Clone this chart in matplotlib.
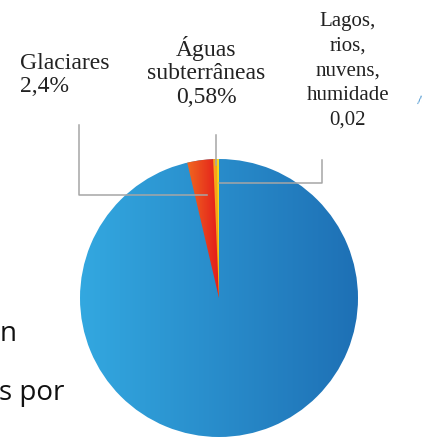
import numpy as np
import matplotlib.pyplot as plt
from matplotlib.patches import Wedge
from matplotlib.colors import LinearSegmentedColormap

# Wedge shares as drawn in the picture (percent), from the top going counterclockwise
slice_names = ['Lagos, rios, nuvens, humidade', 'Águas subterrâneas', 'Glaciares', 'Oceanos']
slice_sizes = [0.22, 0.45, 3.0, 96.33]
slice_labels = ['Lagos,\nrios,\nnuvens,\nhumidade\n0,02', 'Águas\nsubterrâneas\n0,58%', 'Glaciares\n2,4%', '']
gradients = [('#F4E41C', '#F0D818'), ('#F9AC1C', '#F59C18'),
             ('#F06A20', '#E3191B'), ('#33A8E0', '#1E70B5')]

W, H = 426, 438
fig = plt.figure(figsize=(W / 100, H / 100), dpi=100)
ax = fig.add_axes([0, 0, 1, 1])

cx, cy, r = 219, 298, 139
# y axis is flipped, so counterclock=False looks counterclockwise on screen
wedges, _ = ax.pie(slice_sizes, startangle=-90, counterclock=False, center=(cx, cy),
                   radius=r, frame=False, wedgeprops=dict(fc='none', ec='none', lw=0))
ax.set_xlim(0, W)
ax.set_ylim(H, 0)
ax.set_aspect('auto')
ax.axis('off')

# paint from the biggest wedge to the smallest, each one overlapping the later ones,
# so no white seams show between them
start = wedges[0].theta2
for i in range(len(wedges) - 1, -1, -1):
    w = wedges[i]
    c0, c1 = gradients[i]
    if i == len(wedges) - 1:
        clip = Wedge((cx, cy), r, 0, 360, fc='none', ec='none')
        ext = [cx - r, cx + r]
    else:
        clip = Wedge((cx, cy), r, w.theta1, start, fc='none', ec='none')
        xs = cx + r * np.cos(np.radians([w.theta1, start]))
        ext = [min(xs.min(), cx) - 1, cx + 1]
    ax.add_patch(clip)
    cmap = LinearSegmentedColormap.from_list('g%d' % i, [c0, c1])
    grad = np.linspace(0, 1, 256).reshape(1, -1)
    im = ax.imshow(grad, cmap=cmap, aspect='auto', extent=[ext[0], ext[1], cy + r, cy - r],
                   interpolation='bilinear', zorder=1 + (len(wedges) - i) * 0.1)
    im.set_clip_path(clip)
ax.set_xlim(0, W)
ax.set_ylim(H, 0)

# leader lines
line_kw = dict(color='#A6A6A6', lw=1.1, zorder=3)
ax.plot([79, 79, 207], [125, 195, 195], **line_kw)
ax.plot([216, 216], [135, 165], **line_kw)
ax.plot([219, 322, 322], [183, 183, 160], **line_kw)

serif = 'Liberation Serif'
ax.text(20, 53, slice_labels[2], ha='left', va='top', fontsize=17, family=serif,
        linespacing=1.15, color='#222222')
ax.text(206, 36, slice_labels[1], ha='center', va='top', fontsize=17, family=serif,
        linespacing=1.15, color='#222222')
ax.text(348, 12, slice_labels[0], ha='center', va='top', fontsize=15, family=serif,
        linespacing=1.4, color='#222222')

# fragments of the slide behind the chart
ax.text(0, 341, 'n', ha='left', va='baseline', fontsize=20, family='Open Sans', color='#111111')
ax.text(-1, 400, 's por', ha='left', va='baseline', fontsize=20, family='Open Sans', color='#111111')
ax.text(419, 104, '/', ha='center', va='baseline', fontsize=7, color='#2E86C8', rotation=-10)

fig.savefig('out.png', dpi=100)
